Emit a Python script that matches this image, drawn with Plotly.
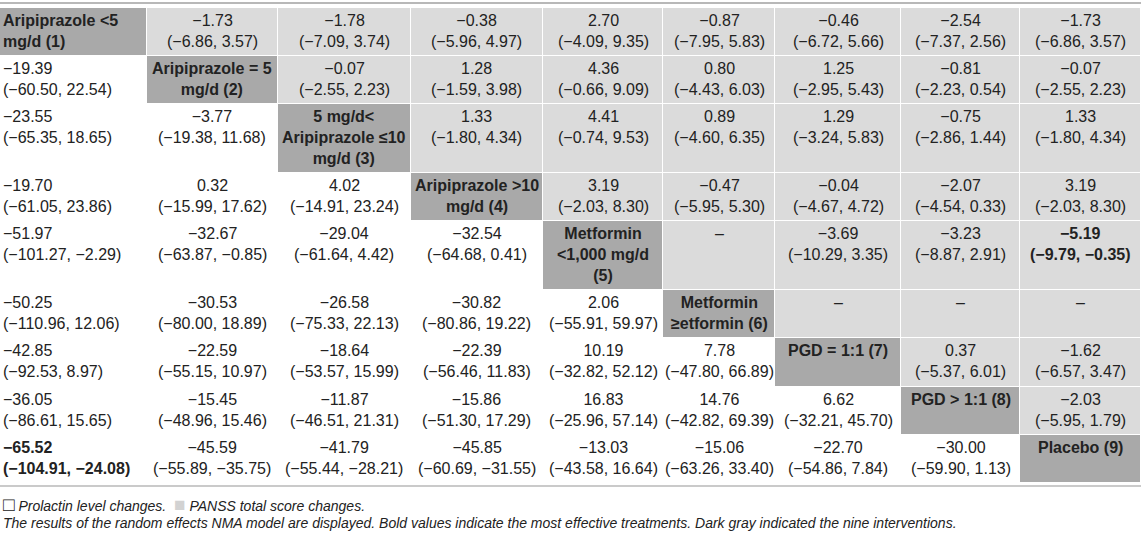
import plotly.graph_objects as go

# nine interventions (diagonal), label lines as printed
treatments = [
    ["Aripiprazole <5", "mg/d (1)"],
    ["Aripiprazole = 5", "mg/d (2)"],
    ["5 mg/d<", "Aripiprazole ≤10", "mg/d (3)"],
    ["Aripiprazole >10", "mg/d (4)"],
    ["Metformin", "<1,000 mg/d", "(5)"],
    ["Metformin", "≥etformin (6)"],
    ["PGD = 1:1 (7)"],
    ["PGD > 1:1 (8)"],
    ["Placebo (9)"],
]

# lower triangle: prolactin level changes (row i, columns 0..i-1)
prolactin_est = [
    [],
    [-19.39],
    [-23.55, -3.77],
    [-19.70, 0.32, 4.02],
    [-51.97, -32.67, -29.04, -32.54],
    [-50.25, -30.53, -26.58, -30.82, 2.06],
    [-42.85, -22.59, -18.64, -22.39, 10.19, 7.78],
    [-36.05, -15.45, -11.87, -15.86, 16.83, 14.76, 6.62],
    [-65.52, -45.59, -41.79, -45.85, -13.03, -15.06, -22.70, -30.00],
]
prolactin_lo = [
    [],
    [-60.50],
    [-65.35, -19.38],
    [-61.05, -15.99, -14.91],
    [-101.27, -63.87, -61.64, -64.68],
    [-110.96, -80.00, -75.33, -80.86, -55.91],
    [-92.53, -55.15, -53.57, -56.46, -32.82, -47.80],
    [-86.61, -48.96, -46.51, -51.30, -25.96, -42.82, -32.21],
    [-104.91, -55.89, -55.44, -60.69, -43.58, -63.26, -54.86, -59.90],
]
prolactin_hi = [
    [],
    [22.54],
    [18.65, 11.68],
    [23.86, 17.62, 23.24],
    [-2.29, -0.85, 4.42, 0.41],
    [12.06, 18.89, 22.13, 19.22, 59.97],
    [8.97, 10.97, 15.99, 11.83, 52.12, 66.89],
    [15.65, 15.46, 21.31, 17.29, 57.14, 69.39, 45.70],
    [-24.08, -35.75, -28.21, -31.55, 16.64, 33.40, 7.84, 1.13],
]

# upper triangle: PANSS total score changes (row i, columns i+1..8), None = no estimate
panss_est = [
    [-1.73, -1.78, -0.38, 2.70, -0.87, -0.46, -2.54, -1.73],
    [-0.07, 1.28, 4.36, 0.80, 1.25, -0.81, -0.07],
    [1.33, 4.41, 0.89, 1.29, -0.75, 1.33],
    [3.19, -0.47, -0.04, -2.07, 3.19],
    [None, -3.69, -3.23, -5.19],
    [None, None, None],
    [0.37, -1.62],
    [-2.03],
    [],
]
panss_lo = [
    [-6.86, -7.09, -5.96, -4.09, -7.95, -6.72, -7.37, -6.86],
    [-2.55, -1.59, -0.66, -4.43, -2.95, -2.23, -2.55],
    [-1.80, -0.74, -4.60, -3.24, -2.86, -1.80],
    [-2.03, -5.95, -4.67, -4.54, -2.03],
    [None, -10.29, -8.87, -9.79],
    [None, None, None],
    [-5.37, -6.57],
    [-5.95],
    [],
]
panss_hi = [
    [3.57, 3.74, 4.97, 9.35, 5.83, 5.66, 2.56, 3.57],
    [2.23, 3.98, 9.09, 6.03, 5.43, 0.54, 2.23],
    [4.34, 9.53, 6.35, 5.83, 1.44, 4.34],
    [8.30, 5.30, 4.72, 0.33, 8.30],
    [None, 3.35, 2.91, -0.35],
    [None, None, None],
    [6.01, 3.47],
    [1.79],
    [],
]

bold_cells = [(8, 0), (4, 8)]

footnote_1 = "Prolactin level changes."
footnote_2 = "PANSS total score changes."
footnote_3 = ("The results of the random effects NMA model are displayed. Bold values indicate "
              "the most effective treatments. Dark gray indicated the nine interventions.")

# ---- layout constants ----
W, H = 1144, 536
col_w = [146.5, 131, 133.2, 132.3, 120, 112, 126, 119, 121]
TOP = 8
LINE_H = 20.6
ROW_PAD = 7
FONT = "Liberation Sans, Arial, Helvetica, sans-serif"
TXT = "#222222"
WHITE, LIGHT, DARK = "#ffffff", "#dbdbdb", "#a9a9a9"

n = len(treatments)


def fmt(v):
    s = "%.2f" % abs(v)
    return ("−" + s) if v < 0 else s


def esc(s):
    return s.replace("<", "&lt;").replace(">", "&gt;")


def cell_text(est, lo, hi, bold):
    if est is None:
        return "–"
    lines = [fmt(est), "(%s, %s)" % (fmt(lo), fmt(hi))]
    if bold:
        lines = ["<b>%s</b>" % l for l in lines]
    return "<br>".join(lines)


x_edges = [0]
for w in col_w:
    x_edges.append(x_edges[-1] + w)

row_h = [ROW_PAD + LINE_H * max(2, len(t)) for t in treatments]
y_edges = [TOP]
for h in row_h:
    y_edges.append(y_edges[-1] + h)

z = [[2 if i == j else (1 if j > i else 0) for j in range(n)] for i in range(n)]

fig = go.Figure()
fig.add_trace(go.Heatmap(
    z=z, x=x_edges, y=y_edges,
    colorscale=[[0, WHITE], [0.5, LIGHT], [1, DARK]],
    zmin=0, zmax=2, showscale=False, xgap=1, ygap=1, hoverinfo="skip",
))

annotations = []
for i in range(n):
    for j in range(n):
        if i == j:
            text = "<br>".join("<b>%s</b>" % esc(l) for l in treatments[i])
        elif i > j:
            text = cell_text(prolactin_est[i][j], prolactin_lo[i][j], prolactin_hi[i][j],
                             (i, j) in bold_cells)
        else:
            k = j - i - 1
            text = cell_text(panss_est[i][k], panss_lo[i][k], panss_hi[i][k],
                             (i, j) in bold_cells)
        if j == 0:
            x, anchor = x_edges[0] + 1, "left"
        else:
            x, anchor = (x_edges[j] + x_edges[j + 1]) / 2, "center"
        annotations.append(dict(
            x=x, y=y_edges[i] + 2, xref="x", yref="y", text=text, showarrow=False,
            xanchor=anchor, yanchor="top", align=anchor,
            font=dict(family=FONT, size=16, color=TXT),
        ))

bottom = y_edges[-1] + 3
annotations.append(dict(
    x=1, y=bottom + 18, xref="x", yref="y", xanchor="left", yanchor="middle", showarrow=False,
    text=("<span style='font-size:19px'>□</span> <i>%s</i>  "
          "<span style='color:#d2d2d2;font-size:19px'>■</span> <i>%s</i>") % (footnote_1, footnote_2),
    font=dict(family=FONT, size=14, color=TXT),
))
annotations.append(dict(
    x=1, y=bottom + 37, xref="x", yref="y", xanchor="left", yanchor="middle", showarrow=False,
    text="<i>%s</i>" % footnote_3,
    font=dict(family=FONT, size=14, color=TXT),
))

shapes = [
    dict(type="line", xref="x", yref="y", x0=0, x1=x_edges[-1], y0=3, y1=3,
         line=dict(color="#b8b8b8", width=2)),
    dict(type="line", xref="x", yref="y", x0=0, x1=x_edges[-1], y0=bottom, y1=bottom,
         line=dict(color="#b8b8b8", width=1.5)),
]

fig.update_layout(
    width=W, height=H,
    margin=dict(l=0, r=0, t=0, b=0),
    paper_bgcolor="white", plot_bgcolor="white",
    xaxis=dict(range=[0, W], visible=False, fixedrange=True),
    yaxis=dict(range=[H, 0], visible=False, fixedrange=True),
    annotations=annotations, shapes=shapes,
    showlegend=False,
)

# the page body keeps its default 8px margin otherwise
fig.write_html("out.html", config={"displayModeBar": False},
               post_script="document.body.style.margin = '0px';")
